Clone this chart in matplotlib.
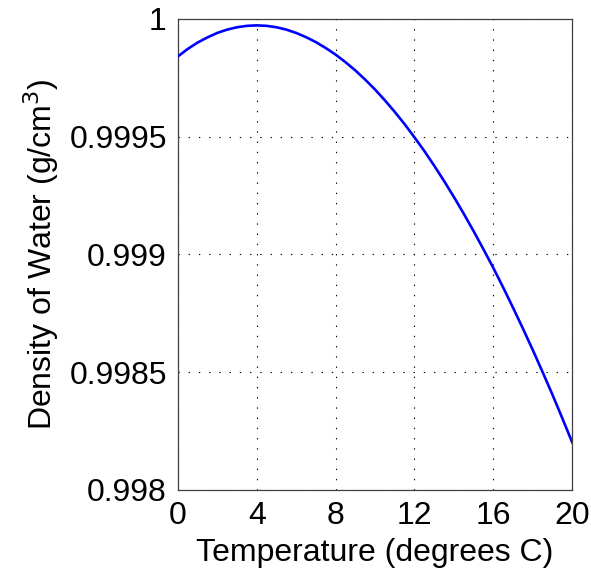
import numpy as np
import matplotlib
matplotlib.use('Agg')
import matplotlib.pyplot as plt

plt.rcParams['font.family'] = ['Liberation Sans', 'DejaVu Sans']

# Density of water at half degree steps (g/cm^3)
temperature = [0, 0.5, 1, 1.5, 2, 2.5, 3, 3.5, 4, 4.5, 5, 5.5, 6, 6.5,
               7, 7.5, 8, 8.5, 9, 9.5, 10, 10.5, 11, 11.5, 12, 12.5,
               13, 13.5, 14, 14.5, 15, 15.5, 16, 16.5, 17, 17.5, 18,
               18.5, 19, 19.5, 20]
density = [0.999840, 0.999872, 0.999899, 0.999921, 0.999940, 0.999954,
           0.999964, 0.999970, 0.999972, 0.999970, 0.999964, 0.999954,
           0.999940, 0.999922, 0.999901, 0.999876, 0.999848, 0.999816,
           0.999781, 0.999742, 0.999700, 0.999654, 0.999605, 0.999553,
           0.999497, 0.999439, 0.999377, 0.999312, 0.999244, 0.999173,
           0.999099, 0.999022, 0.998943, 0.998860, 0.998774, 0.998686,
           0.998595, 0.998501, 0.998405, 0.998305, 0.998203]
x_ticks = [0, 4, 8, 12, 16, 20]
y_ticks = [0.998, 0.9985, 0.999, 0.9995, 1.0]
y_tick_labels = ['0.998', '0.9985', '0.999', '0.9995', '1']

fig = plt.figure(figsize=(5.91, 5.69), dpi=100)
ax = fig.add_axes([0.301, 0.139, 0.667, 0.828])

ax.plot(temperature, density, color='#0000ff', linewidth=1.9, zorder=3)

ax.set_xlim(0, 20)
ax.set_ylim(0.998, 1.0)
ax.set_xticks(x_ticks)
ax.set_xticklabels([str(t) for t in x_ticks])
ax.set_yticks(y_ticks)
ax.set_yticklabels(y_tick_labels)

ax.grid(True, color='black', linestyle=(0, (1.2, 8)), linewidth=0.8)
ax.tick_params(direction='in', length=0, labelsize=23, pad=8,
               top=True, right=True)
for spine in ax.spines.values():
    spine.set_color('#404040')
    spine.set_linewidth(0.9)

ax.set_xlabel('Temperature (degrees C)', fontsize=23, labelpad=5)
ax.set_ylabel('Density of Water (g/cm$^3$)', fontsize=23, labelpad=6)

fig.savefig('out.png', dpi=100)
